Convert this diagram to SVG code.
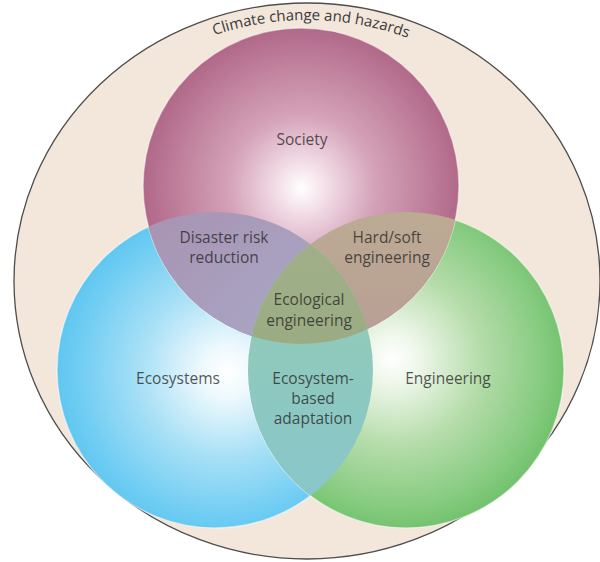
<svg xmlns="http://www.w3.org/2000/svg" width="600" height="562" viewBox="0 0 600 562">
  <style>
    .lbl { font-family: "Open Sans", "Noto Sans", "Liberation Sans", sans-serif; font-size: 15.5px; fill: #262626; fill-opacity: 0.78; text-anchor: middle; }
    .arc { font-family: "Open Sans", "Noto Sans", "Liberation Sans", sans-serif; font-size: 15px; fill: #3a3a3a; }
    .rim { stroke: #ffffff; stroke-opacity: 0.5; stroke-width: 1.5; }
  </style>
  <defs>
    <radialGradient id="gS" gradientUnits="userSpaceOnUse" cx="302" cy="186" r="162" fx="302" fy="188">
      <stop offset="0" stop-color="#ffffff"/>
      <stop offset="0.15" stop-color="#f3dfe8"/>
      <stop offset="0.45" stop-color="#d4a2b9"/>
      <stop offset="0.8" stop-color="#bd7c99"/>
      <stop offset="1" stop-color="#af6686"/>
    </radialGradient>
    <radialGradient id="gEco" gradientUnits="userSpaceOnUse" cx="222" cy="372" r="170" fx="228" fy="372">
      <stop offset="0" stop-color="#ffffff"/>
      <stop offset="0.15" stop-color="#eef9fd"/>
      <stop offset="0.5" stop-color="#a8e0f6"/>
      <stop offset="0.85" stop-color="#70cdf3"/>
      <stop offset="1" stop-color="#5cc5ef"/>
    </radialGradient>
    <radialGradient id="gEng" gradientUnits="userSpaceOnUse" cx="398" cy="362" r="172" fx="392" fy="358">
      <stop offset="0" stop-color="#ffffff"/>
      <stop offset="0.15" stop-color="#eef7ea"/>
      <stop offset="0.5" stop-color="#b5dcaa"/>
      <stop offset="0.85" stop-color="#86cb80"/>
      <stop offset="1" stop-color="#6fc16a"/>
    </radialGradient>
    <linearGradient id="gSEco" x1="0" y1="0" x2="1" y2="1">
      <stop offset="0" stop-color="#a88cab"/>
      <stop offset="0.5" stop-color="#a9a3c2"/>
      <stop offset="1" stop-color="#a3a4c6"/>
    </linearGradient>
    <linearGradient id="gSEng" x1="0" y1="0" x2="0" y2="1">
      <stop offset="0" stop-color="#bcab93"/>
      <stop offset="1" stop-color="#b38c9b"/>
    </linearGradient>
    <linearGradient id="gEcoEng" x1="0" y1="0" x2="0" y2="1">
      <stop offset="0" stop-color="#97cdb1"/>
      <stop offset="1" stop-color="#86c5cc"/>
    </linearGradient>
    <linearGradient id="gTri" x1="0" y1="0" x2="0" y2="1">
      <stop offset="0" stop-color="#a2b088"/>
      <stop offset="1" stop-color="#91a67d"/>
    </linearGradient>
    <clipPath id="cS"><circle cx="301" cy="186" r="158"/></clipPath>
    <clipPath id="cEco"><circle cx="215" cy="370" r="158"/></clipPath>
    <path id="arcPath" d="M 31 281 A 276 261 0 0 1 583 281"/>
  </defs>

  <g id="climate-change-and-hazards">
    <ellipse cx="307" cy="281" rx="293" ry="278" fill="#f3e6da" stroke="#4d4d4d" stroke-width="1.3"/>
    <text class="arc"><textPath href="#arcPath" startOffset="50.5%" text-anchor="middle">Climate change and hazards</textPath></text>
  </g>

  <g id="ecosystems">
    <circle cx="215" cy="370" r="158" fill="url(#gEco)" class="rim"/>
  </g>
  <g id="engineering">
    <circle cx="406" cy="370" r="158" fill="url(#gEng)" class="rim"/>
  </g>
  <g id="society">
    <circle cx="301" cy="186" r="158" fill="url(#gS)" class="rim"/>
  </g>

  <g id="overlaps">
    <g id="disaster-risk-reduction" clip-path="url(#cS)">
      <circle cx="215" cy="370" r="158" fill="url(#gSEco)"/>
    </g>
    <g id="hard-soft-engineering" clip-path="url(#cS)">
      <circle cx="406" cy="370" r="158" fill="url(#gSEng)"/>
    </g>
    <g id="ecosystem-based-adaptation" clip-path="url(#cEco)">
      <circle cx="406" cy="370" r="158" fill="url(#gEcoEng)"/>
    </g>
    <g id="ecological-engineering" clip-path="url(#cS)">
      <g clip-path="url(#cEco)">
        <circle cx="406" cy="370" r="158" fill="url(#gTri)"/>
      </g>
    </g>
  </g>

  <g id="labels">
    <text class="lbl" x="302" y="145">Society</text>
    <text class="lbl" x="224" y="243">Disaster risk</text>
    <text class="lbl" x="224" y="263">reduction</text>
    <text class="lbl" x="387" y="243">Hard/soft</text>
    <text class="lbl" x="387" y="263">engineering</text>
    <text class="lbl" x="309" y="305">Ecological</text>
    <text class="lbl" x="309" y="326">engineering</text>
    <text class="lbl" x="178" y="384">Ecosystems</text>
    <text class="lbl" x="313" y="384">Ecosystem-</text>
    <text class="lbl" x="313" y="404">based</text>
    <text class="lbl" x="313" y="424">adaptation</text>
    <text class="lbl" x="448" y="384">Engineering</text>
  </g>
</svg>
